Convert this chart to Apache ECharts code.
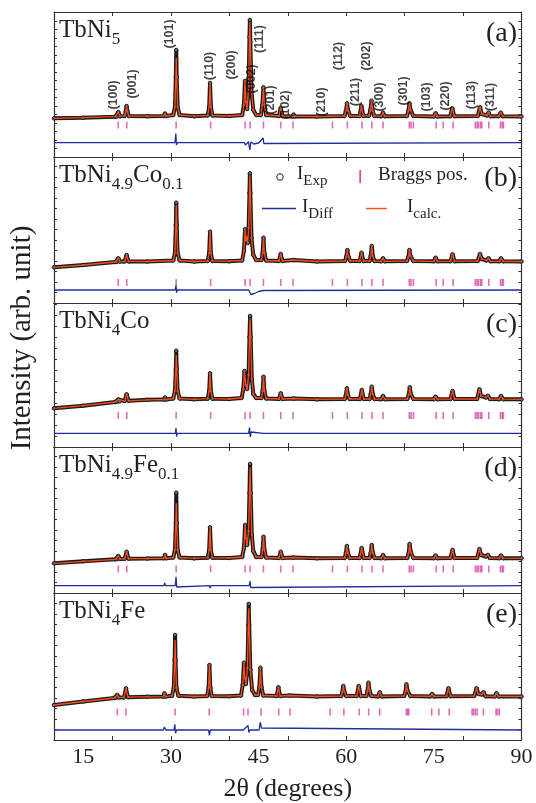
<!DOCTYPE html>
<html><head><meta charset="utf-8">
<script src="https://cdn.jsdelivr.net/npm/echarts@6/dist/echarts.min.js"></script>
<style>html,body{margin:0;padding:0;background:#fff}#c{width:536px;height:803px}</style>
</head><body><div id="c"></div>
<script>
// ---------------- DATA ----------------
const xMin = 10, xMax = 90;
const xTickLabels = [15, 30, 45, 60, 75, 90];
const panelTags = ['(a)', '(b)', '(c)', '(d)', '(e)'];
// compound names as rich-text pieces: [main, sub, main, sub]
const panelNames = [
  ['TbNi', '5'],
  ['TbNi', '4.9', 'Co', '0.1'],
  ['TbNi', '4', 'Co'],
  ['TbNi', '4.9', 'Fe', '0.1'],
  ['TbNi', '4', 'Fe']
];
// profiles: [2theta, I_calc, I_exp (only where it differs)]
const profileA = [
  [10,38.7],[15,39.3],[20.5,40.3],[20.75,40.5],[21.0,45],[21.25,40.8],
  [22.1,41],[22.3,46],[22.42,51],[22.55,46],[22.8,41],[26,40.8],
  [28.8,41],[29.0,43.5],[29.2,41],
  [30.4,42],[30.7,50],[30.85,80],[30.92,99,107],[31.0,80],[31.15,50],[31.5,42],[34,40.8],
  [36.3,41.5],[36.55,50],[36.7,74],[36.85,50],[37.1,41.5],[40,41],
  [42.2,42],[42.5,52],[42.68,76],[42.85,55],[43.05,48],[43.3,70],[43.45,120],[43.52,135,137],[43.6,115],[43.8,65],[44.1,47],[44.6,42],
  [45.4,42],[45.65,52],[45.83,69.7],[46.0,52],[46.3,42],
  [48.5,41],[48.8,49],[49.1,41],[50.8,40.6],[51.0,42.5],[51.2,40.6],[55,40.5],
  [59.7,41],[59.95,46],[60.15,53.7],[60.35,46],[60.7,41],
  [62.3,41],[62.6,51],[62.95,41],
  [63.9,41.3],[64.15,47],[64.33,56.3],[64.5,47],[64.8,41],
  [66.0,40.8],[66.3,44.3],[66.6,40.8],
  [70.4,41],[70.65,46],[70.82,53.7],[71.0,47],[71.5,41],
  [75.0,40.6],[75.3,43.7],[75.6,40.6],
  [77.8,40.8],[78.15,48.7],[78.5,40.8],
  [82.5,41],[82.9,49.7],[83.2,43],[84.1,41.5],[84.35,44.3],[84.7,40.8],
  [86.1,40.8],[86.45,44.3],[86.8,40.8],[90,40.5]
];
const profileB = [
  [10,35.7],[15,38],[20.5,41],[20.75,41.2],[21.0,44.7],[21.25,41.4],
  [22.1,41.6],[22.42,48],[22.75,41.6],[26,41.5],
  [30.4,42.5],[30.7,50],[30.85,78],[30.92,98,100.3],[31.0,78],[31.15,50],[31.5,42.5],[34,41.5],
  [36.3,42],[36.55,50],[36.7,71.3],[36.85,50],[37.1,42],[40,41.8],
  [42.2,42.5],[42.5,52],[42.7,73.7],[42.85,62],[43.0,66],[43.15,60],[43.3,75],[43.45,110],[43.52,128,129.7],[43.6,110],[43.8,65],[44.1,48],[44.6,43],
  [45.5,43],[45.7,50],[45.85,65.3],[46.0,50],[46.3,42.5],
  [48.5,42],[48.8,49],[49.1,42],[51.0,43],[55,41.5],
  [59.8,42],[60.0,46],[60.2,53],[60.4,46],[60.7,42],
  [62.3,42],[62.62,50.3],[62.95,42],
  [64.0,42],[64.2,47],[64.38,57],[64.55,47],[64.85,42],
  [66.0,41.7],[66.3,44.7],[66.6,41.7],
  [70.4,42],[70.65,46],[70.82,53],[71.0,47],[71.5,42],
  [75.0,41.7],[75.3,45.3],[75.6,41.7],
  [77.85,41.8],[78.2,48.7],[78.55,41.8],
  [82.5,42],[82.9,49],[83.2,44],[84.0,42.5],[84.35,44.7],[84.7,41.7],
  [86.2,41.7],[86.5,44.7],[86.85,41.7],[90,41.5]
];
const profileC = [
  [10,38.7],[15,41.3],[20.5,45],[20.8,45.3],[21.0,47.5],[21.2,45.6],
  [22.1,46],[22.42,52.7],[22.75,46.2],[26,47.2],
  [28.8,47.5],[29.0,49.5],[29.2,47.5],
  [30.4,48.5],[30.7,56],[30.85,78],[30.92,92,96.3],[31.0,78],[31.15,56],[31.5,48.5],[34,47.7],
  [36.3,48.3],[36.55,56],[36.7,73.7],[36.85,56],[37.1,48.3],[40,48],
  [42.1,49],[42.4,58],[42.6,76],[42.8,62],[43.05,58],[43.3,72],[43.45,110],[43.55,128.7,131],[43.65,110],[43.85,68],[44.1,53],[44.6,49],
  [45.5,49],[45.7,56],[45.85,70.3],[46.0,56],[46.3,48.5],
  [48.5,48],[48.8,53.7],[49.1,48],[51.0,48.5],[55,47.7],
  [59.75,48],[59.95,52],[60.12,58.7],[60.3,52],[60.6,48],
  [62.35,48],[62.68,57],[63.0,48],
  [64.0,48],[64.2,53],[64.38,60.3],[64.55,53],[64.85,48],
  [66.0,47.8],[66.3,51],[66.6,47.8],
  [70.45,48],[70.7,52],[70.88,59.7],[71.05,53],[71.5,48],
  [75.0,47.8],[75.3,50.3],[75.6,47.8],
  [77.85,48],[78.2,56],[78.55,48],
  [82.4,48],[82.8,57.7],[83.1,51],[83.9,49.5],[84.25,51.3],[84.6,48],
  [86.2,47.8],[86.5,51],[86.85,47.8],[90,47.7]
];
const profileD = [
  [10,29.7],[15,31.7],[20.5,33.7],[20.75,33.8],[21.0,37],[21.25,34],
  [22.1,34.2],[22.42,41.3],[22.75,34.3],[26,34.5],
  [28.8,34.7],[29.0,38],[29.2,34.7],
  [30.4,35.5],[30.7,43],[30.85,70],[30.92,89.7,100.3],[31.0,70],[31.15,43],[31.5,35.5],[34,34.7],
  [36.3,35.3],[36.55,43],[36.7,65.7],[36.85,43],[37.1,35.3],[40,35],
  [42.2,36],[42.5,45],[42.7,68],[42.85,55],[43.05,48],[43.3,62],[43.45,100],[43.55,125.7,129],[43.65,100],[43.85,58],[44.1,42],[44.6,36],
  [45.5,36],[45.7,43],[45.85,56.3],[46.0,43],[46.3,35.5],
  [48.5,35],[48.8,41.3],[49.1,35],[51.0,35.5],[55,34.7],
  [59.75,35],[59.95,40],[60.12,47],[60.3,40],[60.6,35],
  [62.3,35],[62.65,45],[63.0,35],
  [64.0,35],[64.2,40],[64.38,48],[64.55,40],[64.85,35],
  [66.0,34.8],[66.3,38],[66.6,34.8],
  [70.45,35],[70.7,40],[70.85,49],[71.05,41],[71.5,35],
  [75.0,34.8],[75.3,37.5],[75.6,34.8],
  [77.85,35],[78.2,43],[78.55,35],
  [82.4,35],[82.8,44],[83.1,38],[83.9,36.5],[84.25,38],[84.6,35],
  [86.2,34.8],[86.5,37.5],[86.85,34.8],[90,34.7]
];
const profileE = [
  [10,35],[15,38.5],[20.3,42],[20.6,42.3],[20.82,45],[21.05,42.5],
  [22.0,42.6],[22.32,51.7],[22.65,42.8],[26,43.2],
  [28.7,43.4],[28.9,46.7],[29.1,43.4],
  [30.2,44.3],[30.5,52],[30.65,80],[30.72,100,105],[30.8,80],[30.95,52],[31.3,44.3],[34,43.5],
  [36.2,44],[36.45,52],[36.6,75],[36.75,52],[37.0,44],[40,43.8],
  [42.0,44.5],[42.3,55],[42.5,77.3],[42.65,62],[42.85,56],[43.1,72],[43.25,115],[43.32,131.7,136],[43.4,115],[43.6,70],[43.9,50],[44.4,45],
  [44.9,45],[45.15,53],[45.32,72.3],[45.5,53],[45.8,44.5],
  [48.1,44],[48.4,52.7],[48.7,44],[50.3,44.5],[55,43.5],
  [59.15,44],[59.35,48],[59.5,54],[59.7,48],[60.0,44],
  [61.8,44],[62.15,54],[62.5,44],
  [63.45,44],[63.65,49],[63.82,57.3],[64.0,49],[64.3,44],
  [65.45,43.6],[65.75,47.7],[66.05,43.6],
  [69.9,44],[70.15,48],[70.3,55.7],[70.5,49],[71.0,44],
  [74.4,43.6],[74.7,46],[75.0,43.6],
  [77.15,43.8],[77.5,51.7],[77.85,43.8],
  [81.9,44],[82.3,51.7],[82.65,46],[83.2,45.5],[83.5,47.7],[83.85,43.8],
  [85.4,43.6],[85.72,46.7],[86.05,43.6],[90,43.5]
];
// difference curves (plotted with their offset)
const diffA = [[10,14.3],[28.8,14.3],[29,15.5],[29.2,14.3],[30.7,14.3],[30.85,23.5],[30.95,12],[31.1,14.3],[36.6,14.3],[36.7,15.5],[36.8,13.5],[36.9,14.3],[42.6,14.3],[42.75,12],[43.3,15.3],[43.5,7],[43.6,11],[43.7,15],[44.2,13],[45.0,14.0],[45.8,19],[45.9,13.5],[46.1,14.3],[90,14.3]];
const diffB = [[10,13],[30.75,13],[30.88,18],[30.98,10.3],[31.1,13],[36.6,13],[36.7,14.5],[36.8,11.8],[36.9,13],[43.3,13],[43.5,14.5],[43.7,8.5],[44.3,9.5],[45.0,11.5],[45.8,12.5],[45.9,14],[46.1,13],[90,13]];
const diffC = [[10,13.7],[30.75,13.7],[30.88,19],[30.98,10.5],[31.1,13.7],[36.6,13.7],[36.75,12],[36.9,13.7],[43.3,13.7],[43.45,19.5],[43.6,10],[43.75,15],[43.9,13.7],[45.8,13.7],[45.9,15.5],[46.05,13.7],[90,13.7]];
const diffD = [[10,7.3],[28.8,7.3],[28.95,10],[29.1,7.3],[30.75,7.3],[30.88,16.3],[31.0,6],[31.1,7.3],[36.6,7.3],[36.72,5],[36.85,7.3],[43.4,7.3],[43.55,12],[43.65,5.5],[43.8,7.3],[90,7.3]];
const diffE = [[10,10],[28.7,10],[28.9,13],[29.1,10],[30.55,10],[30.68,15.7],[30.8,6.7],[30.95,10],[36.45,10],[36.6,4.5],[36.75,10],[42.4,10],[42.5,12],[42.65,8.5],[43.2,14.5],[43.35,7.5],[43.5,10],[45.1,10],[45.3,18],[45.5,12],[45.8,10],[90,10]];
// Bragg positions (2theta)
const braggAD = [21.0,22.45,30.9,36.8,42.7,43.56,45.84,48.8,50.9,57.65,60.2,62.7,64.4,66.3,70.8,71.1,71.5,75.4,76.6,78.3,82.1,82.4,82.65,83.0,83.2,84.4,86.4,86.7,86.9];
const braggE = [20.84,22.3,30.72,36.55,42.45,43.2,45.45,48.46,50.4,57.25,59.6,62.23,63.85,65.74,70.3,70.5,70.7,74.64,75.86,77.62,81.55,81.8,82.1,82.4,83.48,85.65,85.9,86.2];
// (hkl) labels for panel (a): name, 2theta of label, intensity of label centre
const hklNames = ['(100)','(001)','(101)','(110)','(200)','(002)','(111)','(201)','(102)','(210)','(112)','(211)','(202)','(300)','(301)','(103)','(220)','(113)','(311)'];
const hklX =     [20.15, 23.5, 29.75, 36.7, 40.3, 43.75, 45.2, 47.0, 49.55, 55.85, 58.7, 61.55, 63.45, 65.7, 69.8, 73.8, 76.95, 81.5, 84.66];
const hklY =     [62, 73, 123, 91, 92, 78, 118, 57, 52, 55, 101, 65, 101, 60, 66, 60, 61, 62, 60];

// ---------------- LAYOUT / STYLE ----------------
const profiles = [profileA, profileB, profileC, profileD, profileE];
const diffs = [diffA, diffB, diffC, diffD, diffE];
const braggs = [braggAD, braggAD, braggAD, braggAD, braggE];
const gridTop = [12, 157, 303, 447, 593];
const gridH = [145, 146, 144, 146, 147];
const braggLevel = [32, 20.5, 31.5, 24, 28];
const yTick = [8.5, 10.5, 11, 10.5, 10.5];
const gridLeft = 54, gridRight = 14.5;
const serif = 'Liberation Serif';
const ink = '#231f20';
const cExp = '#1b1b1b', cCalc = '#ff4a1a', cDiff = '#1f2e9e', cBragg = '#d64aa8';

const grids = [], xAxes = [], yAxes = [], series = [], graphics = [];
const axisLineStyle = { color: '#333', width: 1.2 };

profiles.forEach((prof, i) => {
  grids.push({ left: gridLeft, right: gridRight, top: gridTop[i], height: gridH[i] });
  const last = i === 4;
  xAxes.push({
    gridIndex: i, type: 'value', min: xMin, max: xMax, interval: 10, position: 'bottom',
    axisLine: { onZero: false, lineStyle: axisLineStyle },
    axisTick: { inside: true, length: 4, lineStyle: { color: '#333' } },
    axisLabel: { show: last, customValues: xTickLabels, fontFamily: serif, fontSize: 22, color: ink, margin: 6 },
    splitLine: { show: false },
    name: last ? '2θ (degrees)' : '', nameLocation: 'middle', nameGap: 36,
    nameTextStyle: { fontFamily: serif, fontSize: 26, color: ink }
  });
  xAxes.push({
    gridIndex: i, type: 'value', min: xMin, max: xMax, interval: 10, position: 'top',
    axisLine: { onZero: false, lineStyle: axisLineStyle },
    axisTick: { inside: true, length: 4, lineStyle: { color: '#333' } },
    axisLabel: { show: false }, splitLine: { show: false }
  });
  ['left', 'right'].forEach(pos => {
    yAxes.push({
      gridIndex: i, type: 'value', min: 0, max: gridH[i], interval: yTick[i], position: pos,
      axisLine: { show: true, onZero: false, lineStyle: axisLineStyle },
      axisTick: { show: true, inside: true, length: 3, lineStyle: { color: '#333' } },
      axisLabel: { show: false }, splitLine: { show: false }
    });
  });
  const xi = 2 * i, yi = 2 * i;
  series.push({
    type: 'line', name: 'I_Exp', xAxisIndex: xi, yAxisIndex: yi, z: 2,
    data: prof.map(r => [r[0], r.length > 2 ? r[2] : r[1]]),
    symbol: 'circle', symbolSize: 3.6, showAllSymbol: true,
    lineStyle: { color: cExp, width: 4 },
    itemStyle: { color: '#666', borderColor: '#111', borderWidth: 0.9 }
  });
  series.push({
    type: 'line', name: 'I_calc', xAxisIndex: xi, yAxisIndex: yi, z: 3,
    data: prof.map(r => [r[0], r[1]]), symbol: 'none',
    lineStyle: { color: cCalc, width: 1.3 }
  });
  series.push({
    type: 'line', name: 'I_Diff', xAxisIndex: xi, yAxisIndex: yi, z: 3,
    data: diffs[i], symbol: 'none', lineStyle: { color: cDiff, width: 1.3 }
  });
  series.push({
    type: 'scatter', name: 'Bragg', xAxisIndex: xi, yAxisIndex: yi, z: 3,
    data: braggs[i].map(x => [x, braggLevel[i]]),
    symbol: 'rect', symbolSize: [1.6, 7], itemStyle: { color: cBragg }
  });
  // compound name
  const parts = panelNames[i];
  let txt = '';
  parts.forEach((p, k) => { txt += (k % 2 === 0 ? '{m|' : '{s|') + p + '}'; });
  graphics.push({
    type: 'text', left: 59, top: gridTop[i] + 6,
    style: {
      text: txt,
      rich: {
        m: { fontFamily: serif, fontSize: 25, fill: ink, lineHeight: 28, verticalAlign: 'top' },
        s: { fontFamily: serif, fontSize: 17, fill: ink, lineHeight: 17, verticalAlign: 'top', padding: [13, 0, 0, 0] }
      }
    }
  });
  graphics.push({
    type: 'text', right: 536 - 517, top: gridTop[i] + 8,
    style: { text: panelTags[i], fontFamily: serif, fontSize: 28, fill: ink }
  });
});

// hkl labels on panel (a)
series.push({
  type: 'scatter', xAxisIndex: 0, yAxisIndex: 0, z: 5, symbolSize: 1,
  itemStyle: { color: 'rgba(0,0,0,0)' },
  data: hklX.map((x, k) => ({ value: [x, hklY[k]], name: hklNames[k] })),
  label: { show: true, formatter: p => p.name, rotate: 90, position: 'inside',
    fontFamily: 'Liberation Sans', fontWeight: 'bold', fontSize: 12.5, color: '#111' }
});

// legend (panel b)
const legRich = {
  m: { fontFamily: serif, fontSize: 19, fill: ink, lineHeight: 22, verticalAlign: 'top' },
  s: { fontFamily: serif, fontSize: 15, fill: ink, lineHeight: 15, verticalAlign: 'top', padding: [9, 0, 0, 0] }
};
graphics.push(
  { type: 'circle', shape: { cx: 280, cy: 177, r: 3.3 }, style: { fill: 'none', stroke: '#222', lineWidth: 1 } },
  { type: 'text', left: 297, top: 165, style: { text: '{m|I}{s|Exp}', rich: legRich } },
  { type: 'rect', shape: { x: 359.3, y: 170, width: 1.8, height: 13 }, style: { fill: cBragg } },
  { type: 'text', left: 378, top: 166, style: { text: 'Braggs pos.', fontFamily: serif, fontSize: 19, fill: ink } },
  { type: 'line', shape: { x1: 262, y1: 208.5, x2: 296, y2: 208.5 }, style: { stroke: cDiff, lineWidth: 1.4 } },
  { type: 'text', left: 302, top: 198, style: { text: '{m|I}{s|Diff}', rich: legRich } },
  { type: 'line', shape: { x1: 366, y1: 208.5, x2: 387, y2: 208.5 }, style: { stroke: cCalc, lineWidth: 1.4 } },
  { type: 'text', left: 407, top: 198, style: { text: '{m|I}{s|calc.}', rich: legRich } },
  { type: 'text', x: 22, y: 338, rotation: Math.PI / 2,
    style: { text: 'Intensity (arb. unit)', fontFamily: serif, fontSize: 29, fill: ink, align: 'center', verticalAlign: 'middle' } }
);

const chart = echarts.init(document.getElementById('c'), null, { renderer: 'canvas', width: 536, height: 803 });
chart.setOption({
  animation: false,
  backgroundColor: '#fff',
  grid: grids, xAxis: xAxes, yAxis: yAxes, series: series, graphic: graphics
});
</script></body></html>
